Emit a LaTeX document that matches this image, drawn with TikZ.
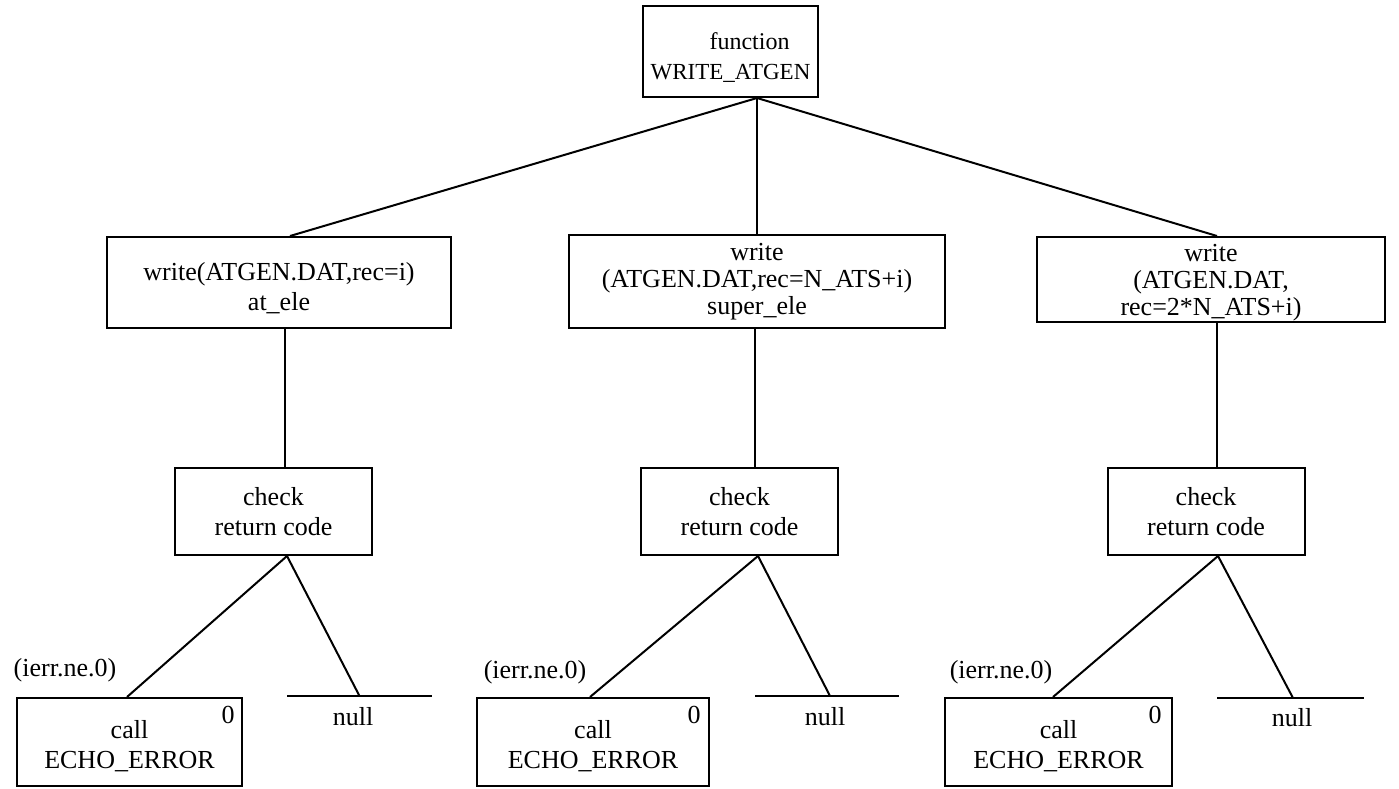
\documentclass[tikz,border=0pt]{standalone}
\usepackage{fontspec}
\setmainfont{Liberation Serif}
\usetikzlibrary{calc}
\begin{document}
\begin{tikzpicture}[x=1pt,y=-1pt,
  box/.style={draw, line width=2pt, inner sep=0pt, align=center,
              font=\fontsize{26}{30}\selectfont},
  tight/.style={font=\fontsize{26}{27}\selectfont},
  lbl/.style={inner sep=0pt, font=\fontsize{26}{30}\selectfont},
  edge/.style={line width=2pt}]
\useasboundingbox (0,0) rectangle (1399,788);
\fill[white] (0,0) rectangle (1399,788);

% root function
\node[box, font=\fontsize{23}{30}\selectfont, minimum width=175pt, minimum height=91pt]
  (top) at (730.5,51.5)
  {\rule{0pt}{28pt}\hspace*{38pt}{\fontsize{24}{30}\selectfont function}\\WRITE\_ATGEN};

% the three write statements
\node[box, minimum width=344pt, minimum height=91pt] (w1) at (279,282.5)
  {\rule{0pt}{30pt}write(ATGEN.DAT,rec=i)\\at\_ele};
\node[box, tight, minimum width=376pt, minimum height=93pt] (w2) at (757,281.5)
  {write\\(ATGEN.DAT,rec=N\_ATS+i)\\super\_ele};
\node[box, tight, minimum width=348pt, minimum height=85pt] (w3) at (1211,279.5)
  {\rule{0pt}{24pt}write\\(ATGEN.DAT,\\rec=2*N\_ATS+i)};

% return-code checks
\node[box, minimum width=197pt, minimum height=87pt] (c1) at (273.5,511.5) {check\\return code};
\node[box, minimum width=197pt, minimum height=87pt] (c2) at (739.5,511.5) {check\\return code};
\node[box, minimum width=197pt, minimum height=87pt] (c3) at (1206,511.5) {check\\return code};

% error calls
\node[box, minimum width=225pt, minimum height=88pt] (e1) at (129.5,742) {\rule{0pt}{26pt}call\\ECHO\_ERROR};
\node[box, minimum width=232pt, minimum height=88pt] (e2) at (593,742) {\rule{0pt}{26pt}call\\ECHO\_ERROR};
\node[box, minimum width=227pt, minimum height=88pt] (e3) at (1058.5,742) {\rule{0pt}{26pt}call\\ECHO\_ERROR};

\node[lbl] (z1) at ($(e1.north east)+(-15,18)$) {0};
\node[lbl] (z2) at ($(e2.north east)+(-16,18)$) {0};
\node[lbl] (z3) at ($(e3.north east)+(-18,18)$) {0};

\node[lbl] (q1) at (65,670) {(ierr.ne.0)};
\node[lbl] (q2) at (535,672) {(ierr.ne.0)};
\node[lbl] (q3) at (1001,672) {(ierr.ne.0)};

% null branches
\coordinate (n1a) at (287,696); \coordinate (n1b) at (432,696);
\coordinate (n2a) at (755,696); \coordinate (n2b) at (899,696);
\coordinate (n3a) at (1217,698); \coordinate (n3b) at (1364,698);
\node[lbl] (u1) at (353,717) {null};
\node[lbl] (u2) at (825,717) {null};
\node[lbl] (u3) at (1292,718) {null};
\draw[edge] (n1a) -- (n1b);
\draw[edge] (n2a) -- (n2b);
\draw[edge] (n3a) -- (n3b);

% root to writes
\coordinate (r) at (top.south -| w2.north);
\draw[edge] (r) -- ($(w1.north)+(11,0)$);
\draw[edge] (r) -- (w2.north);
\draw[edge] (r) -- ($(w3.north)+(6,0)$);

% writes to checks
\draw[edge] ($(w1.south)+(6,0)$) -- ($(c1.north)+(11.5,0)$);
\draw[edge] ($(w2.south)+(-2,0)$) -- ($(c2.north)+(15.5,0)$);
\draw[edge] ($(w3.south)+(6,0)$) -- ($(c3.north)+(11,0)$);

% checks to outcomes
\coordinate (a1) at ($(c1.south)+(13.5,0)$);
\coordinate (a2) at ($(c2.south)+(18.5,0)$);
\coordinate (a3) at ($(c3.south)+(12,0)$);
\draw[edge] (a1) -- ($(e1.north)+(-2.5,0)$);
\draw[edge] (a1) -- ($(n1a)!0.5!(n1b)$);
\draw[edge] (a2) -- ($(e2.north)+(-3,0)$);
\draw[edge] (a2) -- (830,696);
\draw[edge] (a3) -- ($(e3.north)+(-5.5,0)$);
\draw[edge] (a3) -- (1293,698);
\end{tikzpicture}
\end{document}
